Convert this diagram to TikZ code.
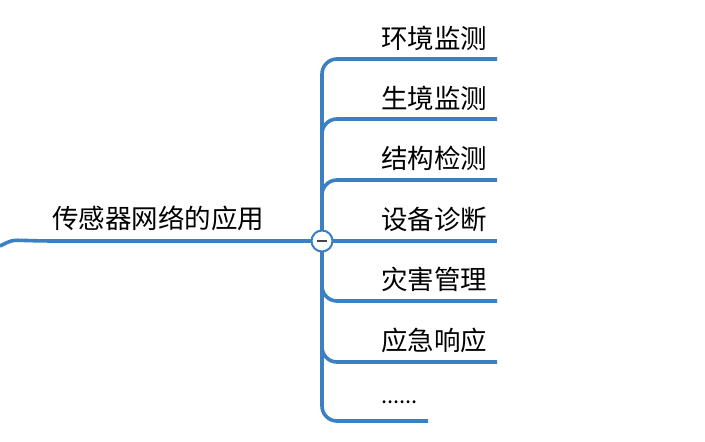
\documentclass[tikz,border=0pt]{standalone}
\usepackage{fontspec}
\setmainfont{Noto Sans CJK SC}
\usetikzlibrary{positioning}
\definecolor{mapblue}{RGB}{58,128,194}
\definecolor{minusgrey}{RGB}{70,70,70}
\tikzset{branch/.style={mapblue, line width=3.6pt, rounded corners=15pt}}
\tikzset{topic/.style={anchor=west, inner sep=0pt, font=\fontsize{26.5}{30}\selectfont}}

\begin{document}
\begin{tikzpicture}[x=1pt,y=-1pt]
      \useasboundingbox (0,0) rectangle (705,442);

      \coordinate (in) at (0,246);
      \coordinate (hub) at (322,241);
      \coordinate (e1) at (497,59);
      \coordinate (e2) at (497,119);
      \coordinate (e3) at (497,180);
      \coordinate (e4) at (497,241);
      \coordinate (e5) at (497,301);
      \coordinate (e6) at (497,362);
      \coordinate (e7) at (428,421);

      \node [topic] (root) at (52,218) {传感器网络的应用};
      \node [topic] (t1) at (381,38) {环境监测};
      \node [topic] (t2) at (381,98) {生境监测};
      \node [topic] (t3) at (381,158) {结构检测};
      \node [topic] (t4) at (381,219) {设备诊断};
      \node [topic] (t5) at (381,279) {灾害管理};
      \node [topic] (t6) at (381,340) {应急响应};
      \node [topic, font=\fontsize{22}{26}\selectfont] (t7) at (381,402) {......};

      \draw [branch] (in) .. controls (12,240) .. (40,241) -- (hub);
      \draw [branch] (hub) |- (e1);
      \draw [branch] (hub) |- (e2);
      \draw [branch] (hub) |- (e3);
      \draw [branch] (hub) -- (e4);
      \draw [branch] (hub) |- (e5);
      \draw [branch] (hub) |- (e6);
      \draw [branch] (hub) |- (e7);

      \draw [mapblue, line width=2pt, fill=white] (hub) circle [radius=10.5];
      \draw [minusgrey, line width=2pt] ([xshift=-5pt]hub) -- ([xshift=5pt]hub);
    \end{tikzpicture}
\end{document}
